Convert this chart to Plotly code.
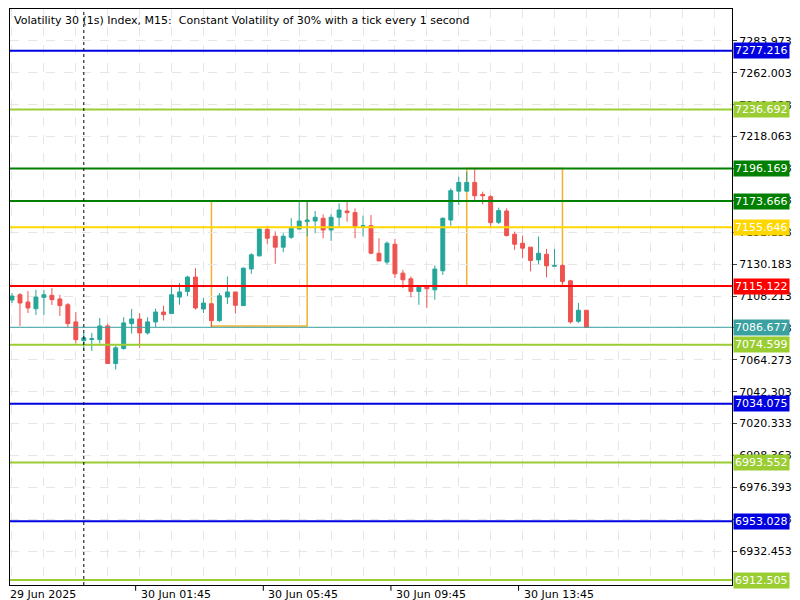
import plotly.graph_objects as go

# OHLC of the M15 candles, oldest first (index 0 = 29 Jun 22:00)
opens = [7105.5, 7109.1, 7104.1, 7099.5, 7107.3, 7108.7, 7106.2, 7102.2, 7090.4, 7077.5,
         7078.3, 7078.2, 7087.6, 7061.7, 7072.0, 7089.2, 7092.4, 7082.8, 7090.4, 7097.2,
         7096.1, 7107.5, 7111.4, 7121.3, 7099.3, 7102.9, 7091.3, 7107.5, 7111.0, 7101.6,
         7126.9, 7135.9, 7154.2, 7149.4, 7141.9, 7148.7, 7154.4, 7159.5, 7159.9, 7161.8,
         7153.7, 7162.5, 7166.8, 7165.7, 7156.3, 7156.7, 7137.7, 7131.6, 7143.9, 7124.0,
         7120.1, 7111.4, 7115.3, 7112.5, 7125.6, 7160.6, 7180.5, 7180.5, 7186.5, 7178.2,
         7176.7, 7159.0, 7166.8, 7150.8, 7144.6, 7141.9, 7133.1, 7137.0, 7128.8, 7129.3,
         7118.7, 7090.8, 7098.4]
highs = [7110.3, 7110.3, 7111.6, 7112.5, 7112.5, 7113.7, 7109.1, 7103.4, 7097.2, 7082.8,
         7082.8, 7093.1, 7089.2, 7073.9, 7093.6, 7099.3, 7096.5, 7093.6, 7099.5, 7101.6,
         7115.6, 7117.1, 7122.2, 7127.4, 7106.8, 7102.9, 7110.3, 7121.7, 7111.0, 7127.9,
         7137.7, 7154.4, 7156.5, 7152.8, 7151.5, 7161.8, 7173.4, 7173.4, 7166.8, 7164.5,
         7164.5, 7172.1, 7173.6, 7168.6, 7163.6, 7164.0, 7148.0, 7145.8, 7147.6, 7126.3,
         7121.7, 7114.9, 7115.3, 7129.3, 7162.3, 7182.4, 7190.4, 7193.8, 7196.1, 7180.1,
         7177.8, 7169.1, 7168.6, 7152.6, 7149.9, 7141.9, 7149.2, 7140.7, 7140.7, 7130.2,
         7119.4, 7103.4, 7098.4]
lows = [7103.4, 7087.6, 7096.5, 7095.2, 7095.2, 7102.0, 7094.5, 7086.9, 7075.5, 7070.4,
        7070.4, 7075.5, 7061.7, 7057.6, 7071.3, 7082.3, 7072.5, 7081.6, 7086.9, 7091.3,
        7096.1, 7102.2, 7108.0, 7098.8, 7096.5, 7086.9, 7090.4, 7102.7, 7096.1, 7101.6,
        7123.5, 7135.5, 7144.1, 7130.4, 7138.4, 7147.6, 7154.4, 7149.4, 7151.5, 7148.0,
        7146.2, 7156.1, 7159.5, 7148.0, 7149.2, 7137.0, 7132.4, 7129.7, 7120.6, 7113.7,
        7107.3, 7102.2, 7100.0, 7105.7, 7122.8, 7156.7, 7170.9, 7180.1, 7174.3, 7171.4,
        7156.1, 7157.8, 7149.2, 7140.0, 7134.3, 7125.2, 7130.2, 7121.1, 7128.6, 7116.5,
        7089.2, 7089.7, 7086.7]
closes = [7108.2, 7103.4, 7100.0, 7107.5, 7109.1, 7105.7, 7101.6, 7089.2, 7078.2, 7079.4,
          7078.8, 7087.6, 7061.7, 7072.5, 7089.7, 7092.4, 7082.8, 7090.4, 7097.2, 7095.4,
          7109.1, 7111.0, 7121.3, 7100.0, 7103.4, 7091.3, 7108.4, 7111.0, 7101.8, 7127.4,
          7136.6, 7154.4, 7148.0, 7141.9, 7149.4, 7154.9, 7159.9, 7160.6, 7162.5, 7153.7,
          7162.5, 7167.5, 7165.7, 7156.1, 7156.6, 7137.7, 7132.4, 7144.6, 7123.5, 7119.4,
          7111.4, 7114.2, 7113.2, 7126.8, 7161.8, 7180.8, 7186.5, 7186.5, 7177.3, 7177.3,
          7158.8, 7167.1, 7149.9, 7143.9, 7141.2, 7132.7, 7137.7, 7129.0, 7129.1, 7118.3,
          7090.4, 7098.4, 7086.677]

# horizontal levels and their colours
levels = [7277.216, 7236.692, 7196.169, 7173.666, 7155.646, 7115.122,
          7074.599, 7034.075, 6993.552, 6953.028, 6912.505]
level_colors = ['#0000E0', '#9ACD32', '#008000', '#008000', '#FFD700', '#FF0000',
                '#9ACD32', '#0000E0', '#9ACD32', '#0000E0', '#9ACD32']
last_price = 7086.677

# orange boxes: (first candle, last candle, low, high)
boxes = [(25, 37, 7087.6, 7173.666), (57, 69, 7115.122, 7196.169)]

y_ticks = [7283.973, 7262.003, 7240.033, 7218.063, 7196.093, 7174.123, 7152.153,
           7130.183, 7108.213, 7086.243, 7064.273, 7042.303, 7020.333, 6998.363,
           6976.393, 6954.423, 6932.453]
x_tick_idx = [0, 16, 32, 48, 64]
x_tick_text = ['29 Jun 2025', '30 Jun 01:45', '30 Jun 05:45', '30 Jun 09:45', '30 Jun 13:45']
day_sep = 9

UP, DOWN = '#26A69A', '#EF5350'
FONT = 'DejaVu Sans'
FS = 11

idx = list(range(len(opens)))
fig = go.Figure(go.Candlestick(
    x=idx, open=opens, high=highs, low=lows, close=closes,
    increasing=dict(line=dict(color=UP, width=1), fillcolor=UP),
    decreasing=dict(line=dict(color=DOWN, width=1), fillcolor=DOWN),
    whiskerwidth=0, hoverinfo='skip'))

for x0, x1, lo, hi in boxes:
    fig.add_shape(type='rect', x0=x0, x1=x1, y0=lo, y1=hi,
                  line=dict(color='#F2B130', width=1.5), layer='below')

for p, c in zip(levels, level_colors):
    fig.add_hline(y=p, line=dict(color=c, width=2))
    fig.add_annotation(x=1, xref='paper', y=p, yref='y', text=f'{p:.3f}',
                       xanchor='left', yanchor='middle', showarrow=False, bgcolor=c,
                       font=dict(color='white', size=FS, family=FONT), borderpad=1, xshift=1)
fig.add_hline(y=last_price, line=dict(color='#3AA0A0', width=1))
fig.add_annotation(x=1, xref='paper', y=last_price, yref='y', text=f'{last_price:.3f}',
                   xanchor='left', yanchor='middle', showarrow=False, bgcolor='#3AA0A0',
                   font=dict(color='white', size=FS, family=FONT), borderpad=1, xshift=1)

fig.add_vline(x=day_sep, line=dict(color='black', width=1, dash='dot'))

for i, t in zip(x_tick_idx, x_tick_text):
    fig.add_annotation(x=i, xref='x', y=0, yref='paper', text=t, xanchor='left', yanchor='top',
                       showarrow=False, yshift=-1, xshift=-4 if i == 0 else -1,
                       font=dict(size=FS, family=FONT, color='black'))

fig.add_annotation(x=0, xref='paper', y=1, yref='paper', xshift=2, yshift=-3,
                   text='Volatility 30 (1s) Index, M15:  Constant Volatility of 30% with a tick every 1 second',
                   xanchor='left', yanchor='top', showarrow=False,
                   font=dict(size=FS, family=FONT, color='black'))

fig.update_layout(
    width=800, height=600, margin=dict(l=2, r=76, t=1, b=23, autoexpand=False),
    plot_bgcolor='white', paper_bgcolor='white', showlegend=False,
    font=dict(family=FONT, size=FS, color='black'),
    xaxis=dict(range=[-0.25, 90.25], rangeslider=dict(visible=False), automargin=False,
               tickvals=list(range(0, 91, 4)), ticks='', showticklabels=False,
               showgrid=True, gridcolor='#E6E6E6', griddash='dash', gridwidth=1,
               showline=True, linecolor='black', mirror=True, zeroline=False),
    yaxis=dict(range=[6909.1, 7306.0], side='right', tickvals=y_ticks, automargin=False,
               ticktext=[f'{v:.3f}' for v in y_ticks], ticks='outside', ticklen=4,
               showgrid=True, gridcolor='#E6E6E6', griddash='dash',
               showline=True, linecolor='black', mirror=True, zeroline=False,
               tickfont=dict(size=FS, family=FONT)),
)
# tick marks under the time labels
for i in x_tick_idx[1:]:
    fig.add_shape(type='line', x0=i - 0.5, x1=i - 0.5, xref='x', y0=0, y1=-0.01, yref='paper',
                  line=dict(color='black', width=1))

fig.write_html('out.html')
